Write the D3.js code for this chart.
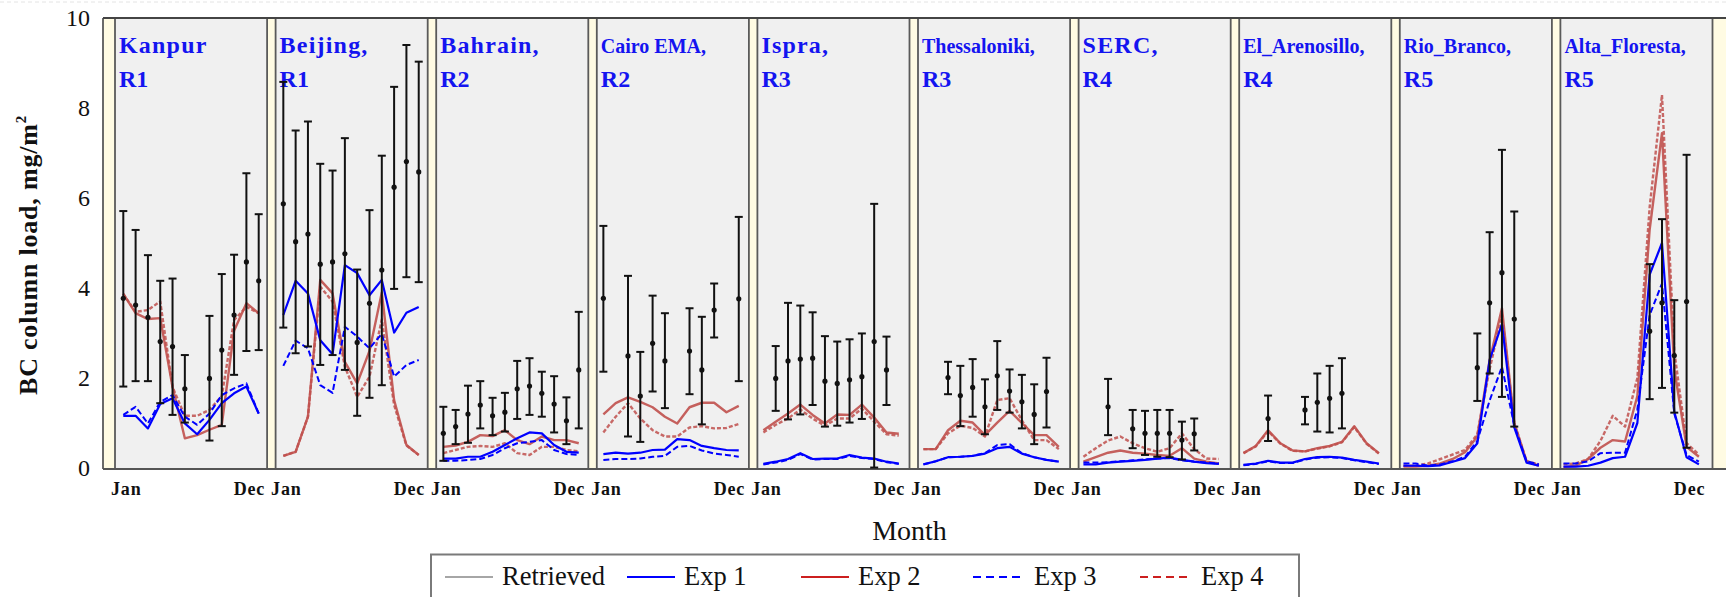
<!DOCTYPE html>
<html>
<head>
<meta charset="utf-8">
<script src="https://cdn.jsdelivr.net/npm/d3@7"></script>
<style>
  body { margin: 0; background: #fff; }
  text { font-family: "Liberation Serif", "Times New Roman", serif; }
</style>
</head>
<body>
<svg width="1726" height="597"></svg>
<script>

// sites, one panel each
var siteNames = ["Kanpur", "Beijing,", "Bahrain,", "Cairo EMA,", "Ispra,", "Thessaloniki,",
                 "SERC,", "El_Arenosillo,", "Rio_Branco,", "Alta_Floresta,"];
var regions = ["R1", "R1", "R2", "R2", "R3", "R3", "R4", "R4", "R5", "R5"];
var yTicks = [0, 2, 4, 6, 8, 10];
var seriesNames = ["Retrieved", "Exp 1", "Exp 2", "Exp 3", "Exp 4"];

// retrieved monthly mean and error bar limits (null = no data)
var _ = null;
var retMean = [
  [3.77, 3.62, 3.35, 2.81, 2.70, 1.76, _, 1.99, 2.62, 3.40, 4.58, 4.16],
  [5.87, 5.03, 5.20, 4.53, 4.58, 4.76, 2.79, 3.66, 4.40, 6.24, 6.81, 6.58],
  [0.77, 0.92, 1.20, 1.40, 1.16, 1.24, 1.76, 1.82, 1.66, 1.42, 1.05, 2.18],
  [3.77, _, 2.49, 1.60, 2.77, 2.38, _, 2.60, 2.18, 3.51, _, 3.76],
  [_, 1.99, 2.38, 2.42, 2.44, 1.93, 1.88, 1.96, 2.03, 2.81, 2.18, _],
  [_, _, 2.01, 1.61, 1.79, 1.36, 2.05, 1.71, 1.47, 1.19, 1.70, _],
  [_, _, 1.36, _, 0.87, 0.77, 0.77, 0.77, 0.62, 0.76, _, _],
  [_, _, 1.10, _, _, 1.29, 1.46, 1.55, 1.66, _, _, _],
  [_, _, _, _, _, _, 2.23, 3.67, 4.34, 3.31, _, _],
  [_, _, _, _, _, _, _, 3.04, 3.67, 2.50, 3.70, _]
];
var retLow = [
  [1.81, 1.93, 1.93, 1.44, 1.18, 1.01, _, 0.61, 0.93, 2.07, 2.60, 2.62],
  [3.12, 2.55, 2.70, 2.29, 2.51, 2.18, 1.16, 1.56, 1.84, 3.98, 4.24, 4.13],
  [0.16, 0.53, 0.56, 0.88, 0.73, 0.81, 1.09, 1.18, 1.14, 0.79, 0.53, 0.88],
  [2.14, _, 0.70, 0.58, 1.70, 1.33, _, 1.64, 0.97, 2.90, _, 1.93],
  [_, 1.27, 1.08, 1.19, 1.40, 0.92, 0.94, 1.01, 1.09, 0.01, 1.40, _],
  [_, _, 1.64, 0.93, 1.14, 0.75, 1.29, 1.23, 0.88, 0.53, 0.90, _],
  [_, _, 0.73, _, 0.44, 0.29, 0.25, 0.24, 0.19, 0.39, _, _],
  [_, _, 0.60, _, _, 0.97, 0.81, 0.79, 0.88, _, _, _],
  [_, _, _, _, _, _, 1.49, 2.10, 1.58, 0.92, _, _],
  [_, _, _, _, _, _, _, 1.53, 1.78, 1.23, 0.45, _]
];
var retHigh = [
  [5.71, 5.29, 4.73, 4.16, 4.21, 2.51, _, 3.38, 4.31, 4.74, 6.55, 5.64],
  [8.58, 7.50, 7.70, 6.76, 6.61, 7.33, 4.41, 5.73, 6.94, 8.47, 9.40, 9.03],
  [1.36, 1.29, 1.83, 1.93, 1.56, 1.67, 2.38, 2.44, 2.14, 2.04, 1.57, 3.47],
  [5.38, _, 4.27, 2.58, 3.83, 3.44, _, 3.55, 3.36, 4.10, _, 5.58],
  [_, 2.71, 3.67, 3.61, 3.46, 2.93, 2.81, 2.86, 2.99, 5.87, 2.92, _],
  [_, _, 2.36, 2.27, 2.42, 1.97, 2.82, 2.19, 2.07, 1.86, 2.45, _],
  [_, _, 1.98, _, 1.29, 1.27, 1.29, 1.29, 1.03, 1.10, _, _],
  [_, _, 1.61, _, _, 1.58, 2.10, 2.27, 2.44, _, _, _],
  [_, _, _, _, _, _, 2.99, 5.24, 7.07, 5.70, _, _],
  [_, _, _, _, _, _, _, 4.53, 5.53, 3.73, 6.96, _]
];

// model experiments
var exp1 = [
  [1.16, 1.16, 0.88, 1.42, 1.55, 0.99, 0.75, 1.07, 1.44, 1.66, 1.81, 1.21],
  [3.40, 4.16, 3.88, 2.84, 2.53, 4.51, 4.33, 3.84, 4.18, 3.01, 3.45, 3.58],
  [0.21, 0.21, 0.25, 0.25, 0.36, 0.51, 0.66, 0.79, 0.77, 0.51, 0.36, 0.34],
  [0.31, 0.34, 0.32, 0.34, 0.40, 0.41, 0.64, 0.62, 0.49, 0.44, 0.40, 0.39],
  [0.09, 0.14, 0.20, 0.33, 0.20, 0.21, 0.21, 0.29, 0.23, 0.21, 0.14, 0.10],
  [0.08, 0.15, 0.24, 0.25, 0.27, 0.32, 0.44, 0.47, 0.32, 0.24, 0.18, 0.14],
  [0.08, 0.08, 0.12, 0.14, 0.16, 0.18, 0.21, 0.23, 0.18, 0.14, 0.11, 0.09],
  [0.07, 0.10, 0.16, 0.12, 0.12, 0.20, 0.24, 0.25, 0.23, 0.18, 0.14, 0.10],
  [0.05, 0.05, 0.04, 0.06, 0.14, 0.22, 0.55, 2.40, 3.20, 0.90, 0.12, 0.05],
  [0.03, 0.03, 0.05, 0.12, 0.22, 0.25, 1.00, 4.30, 5.00, 1.25, 0.24, 0.08]
];
var exp2 = [
  [3.87, 3.44, 3.31, 3.33, 1.80, 0.66, 0.73, 0.85, 0.96, 3.05, 3.66, 3.44],
  [0.27, 0.36, 1.14, 4.18, 3.88, 2.36, 1.88, 2.60, 3.90, 1.51, 0.51, 0.29],
  [0.47, 0.50, 0.58, 0.73, 0.71, 0.84, 0.62, 0.53, 0.70, 0.62, 0.62, 0.55],
  [1.19, 1.44, 1.57, 1.47, 1.35, 1.14, 0.99, 1.35, 1.45, 1.45, 1.24, 1.38],
  [0.84, 1.03, 1.21, 1.41, 1.18, 0.99, 1.19, 1.18, 1.41, 1.12, 0.79, 0.76],
  [0.42, 0.42, 0.84, 1.05, 1.01, 0.73, 1.01, 1.27, 1.00, 0.73, 0.73, 0.47],
  [0.14, 0.24, 0.34, 0.39, 0.34, 0.32, 0.29, 0.27, 0.44, 0.21, 0.14, 0.10],
  [0.33, 0.49, 0.84, 0.55, 0.39, 0.37, 0.44, 0.49, 0.58, 0.93, 0.55, 0.33],
  [0.03, 0.03, 0.05, 0.10, 0.20, 0.35, 0.70, 2.40, 3.55, 1.00, 0.15, 0.05],
  [0.02, 0.05, 0.20, 0.45, 0.62, 0.59, 1.60, 5.30, 7.44, 2.20, 0.47, 0.25]
];
var exp3 = [
  [1.18, 1.36, 0.99, 1.47, 1.62, 1.14, 0.96, 1.21, 1.62, 1.77, 1.88, 1.21],
  [2.27, 2.83, 2.66, 1.84, 1.67, 3.14, 2.92, 2.66, 2.98, 2.03, 2.29, 2.40],
  [0.16, 0.16, 0.18, 0.20, 0.29, 0.44, 0.55, 0.58, 0.62, 0.40, 0.31, 0.29],
  [0.18, 0.20, 0.20, 0.21, 0.25, 0.27, 0.47, 0.49, 0.39, 0.32, 0.29, 0.25],
  [0.08, 0.12, 0.18, 0.31, 0.19, 0.20, 0.20, 0.27, 0.22, 0.20, 0.13, 0.09],
  [0.08, 0.15, 0.24, 0.25, 0.27, 0.33, 0.51, 0.53, 0.33, 0.24, 0.18, 0.14],
  [0.12, 0.12, 0.13, 0.15, 0.17, 0.19, 0.21, 0.22, 0.17, 0.14, 0.12, 0.10],
  [0.06, 0.09, 0.15, 0.11, 0.11, 0.19, 0.23, 0.24, 0.22, 0.17, 0.13, 0.09],
  [0.10, 0.10, 0.05, 0.08, 0.15, 0.25, 0.60, 1.50, 2.25, 0.95, 0.15, 0.08],
  [0.10, 0.10, 0.15, 0.33, 0.34, 0.34, 1.30, 3.40, 4.10, 1.21, 0.29, 0.14]
];
var exp4 = [
  [3.87, 3.47, 3.51, 3.70, 1.80, 1.16, 1.16, 1.29, 1.60, 3.29, 3.58, 3.44],
  [0.27, 0.36, 1.14, 4.03, 3.70, 2.25, 1.58, 2.03, 3.30, 1.40, 0.50, 0.29],
  [0.33, 0.40, 0.47, 0.49, 0.47, 0.55, 0.33, 0.29, 0.47, 0.47, 0.40, 0.37],
  [0.79, 1.14, 1.44, 1.10, 0.84, 0.70, 0.70, 0.90, 0.93, 0.88, 0.89, 0.98],
  [0.79, 0.96, 1.10, 1.30, 1.10, 0.94, 1.10, 1.10, 1.32, 1.03, 0.75, 0.72],
  [0.42, 0.42, 0.77, 0.94, 0.89, 0.70, 1.51, 1.55, 1.06, 0.62, 0.62, 0.42],
  [0.25, 0.44, 0.61, 0.70, 0.55, 0.44, 0.36, 0.44, 0.77, 0.42, 0.21, 0.20],
  [0.33, 0.48, 0.82, 0.54, 0.38, 0.37, 0.43, 0.48, 0.57, 0.91, 0.54, 0.32],
  [0.05, 0.05, 0.10, 0.20, 0.30, 0.40, 0.75, 2.20, 3.40, 1.00, 0.15, 0.08],
  [0.08, 0.10, 0.20, 0.60, 1.16, 0.92, 2.00, 5.80, 8.29, 2.60, 0.55, 0.30]
];

var W = 1726, H = 597;
var frameL = 103, frameT = 18, frameB = 469;
var blue = "#0000ff", red = "#c0504d";

var svg = d3.select("svg");

// month index u = 13*panel + month
var x = d3.scaleLinear().domain([0, 117]).range([123.3, 1563.5]);
// panel dividers
var panelX = d3.scaleLinear().domain([0, 10]).range([106.5, 1712.5]);
var y = d3.scaleLinear().domain([0, 10]).range([468, 18]);

// faint dashed line at the very top
svg.append("line").attr("x1", 0).attr("x2", W).attr("y1", 2).attr("y2", 2)
  .style("stroke", "#e4e4e4").style("stroke-dasharray", "4,3");

// panel backgrounds and cream strips
var bg = svg.append("g");
for (var k = 0; k <= 10; k++) {
  var d = panelX(k);
  var s0 = k == 0 ? frameL : d;
  var s1 = d + 8.5;
  if (k < 10) {
    bg.append("rect").attr("x", s1).attr("y", frameT)
      .attr("width", panelX(k + 1) - s1).attr("height", frameB - frameT)
      .style("fill", "#f0f0f0");
  }
  bg.append("rect").attr("x", s0).attr("y", frameT)
    .attr("width", k == 10 ? W - s0 + 5 : s1 - s0).attr("height", frameB - frameT)
    .style("fill", "#fffbe3");
  [s0, s1].forEach(function(lx, j) {
    if (k == 10 && j == 1) return;
    bg.append("line").attr("x1", lx).attr("x2", lx).attr("y1", frameT).attr("y2", frameB)
      .style("stroke", "#5a5a5a").style("stroke-width", 1.8);
  });
}

// frame
svg.append("line").attr("x1", frameL).attr("x2", W).attr("y1", frameT).attr("y2", frameT)
  .style("stroke", "#444").style("stroke-width", 2);
svg.append("line").attr("x1", frameL).attr("x2", W).attr("y1", frameB).attr("y2", frameB)
  .style("stroke", "#555").style("stroke-width", 2);

// y axis
var yAxis = svg.append("g").attr("transform", "translate(" + frameL + ",0)")
  .call(d3.axisLeft(y).tickValues(yTicks).tickSize(0).tickPadding(13));
yAxis.select(".domain").remove();
yAxis.selectAll("text").style("font-family", "Liberation Serif").style("font-size", "24px")
  .style("fill", "#111");

svg.append("text")
  .attr("transform", "translate(37,395) rotate(-90)")
  .style("font-size", "26px").style("font-weight", "bold").style("letter-spacing", "0.8px")
  .style("fill", "#111")
  .text("BC column load, mg/m")
  .append("tspan").attr("dy", -11).style("font-size", "15px").text("2");

// x axis: Jan / Dec under every panel
var xTickVals = [], xTickText = [];
for (var k = 0; k < 10; k++) {
  xTickVals.push(13 * k + 0.2); xTickText.push("Jan");
  xTickVals.push(13 * k + 10.2); xTickText.push("Dec");
}
var xAxis = svg.append("g").attr("transform", "translate(0," + frameB + ")")
  .call(d3.axisBottom(x).tickValues(xTickVals).tickSize(0).tickPadding(13)
    .tickFormat(function(v, i) { return xTickText[i]; }));
xAxis.select(".domain").remove();
xAxis.selectAll("text").style("font-family", "Liberation Serif").style("font-size", "18px")
  .style("font-weight", "bold").style("letter-spacing", "0.8px").style("fill", "#111");

svg.append("text").attr("x", 909.5).attr("y", 540).attr("text-anchor", "middle")
  .style("font-size", "28px").style("fill", "#111").text("Month");

// panel titles
siteNames.forEach(function(name, k) {
  var tx = panelX(k) + 12.5;
  var small = name.length > 9;
  svg.append("text").attr("x", tx).attr("y", 53)
    .style("font-size", small ? "20px" : "24px").style("font-weight", "bold")
    .style("letter-spacing", small ? "0px" : "1.2px").style("fill", "#1414f0")
    .text(name);
  svg.append("text").attr("x", tx).attr("y", 87)
    .style("font-size", "24px").style("font-weight", "bold").style("fill", "#1414f0")
    .text(regions[k]);
});

// model lines
var styles = [
  { data: exp4, color: red, width: 2.4, dash: "4,2", op: 0.85 },
  { data: exp2, color: red, width: 2.4, dash: null, op: 0.9 },
  { data: exp3, color: blue, width: 2, dash: "6,3", op: 1 },
  { data: exp1, color: blue, width: 2.2, dash: null, op: 1 }
];
var lines = svg.append("g");
styles.forEach(function(st) {
  st.data.forEach(function(vals, k) {
    var line = d3.line()
      .x(function(v, i) { return x(13 * k + i); })
      .y(function(v) { return y(v); });
    lines.append("path").datum(vals).attr("d", line)
      .style("fill", "none").style("stroke", st.color).style("stroke-width", st.width)
      .style("stroke-opacity", st.op)
      .style("stroke-dasharray", st.dash).style("stroke-linejoin", "round");
  });
});

// retrieved error bars
var bars = svg.append("g");
retMean.forEach(function(vals, k) {
  vals.forEach(function(v, i) {
    if (v == null) return;
    var bx = x(13 * k + i), lo = y(retLow[k][i]), hi = y(retHigh[k][i]);
    bars.append("line").attr("x1", bx).attr("x2", bx).attr("y1", lo).attr("y2", hi)
      .style("stroke", "#111").style("stroke-width", 2);
    [lo, hi].forEach(function(cy) {
      bars.append("line").attr("x1", bx - 4).attr("x2", bx + 4).attr("y1", cy).attr("y2", cy)
        .style("stroke", "#111").style("stroke-width", 2);
    });
    bars.append("circle").attr("cx", bx).attr("cy", y(v)).attr("r", 2.6).style("fill", "#111");
  });
});

// legend
var lg = svg.append("g");
lg.append("rect").attr("x", 431).attr("y", 554.5).attr("width", 868).attr("height", 60)
  .style("fill", "#fff").style("stroke", "#7a7a7a").style("stroke-width", 2);
var legStart = [445, 627, 801, 973, 1140];
var legColor = ["#888", blue, "#cc1f1f", blue, "#cc1f1f"];
var legDash = [null, null, null, "8,5", "8,5"];
seriesNames.forEach(function(nm, i) {
  lg.append("line").attr("x1", legStart[i]).attr("x2", legStart[i] + 48)
    .attr("y1", 577).attr("y2", 577)
    .style("stroke", legColor[i]).style("stroke-width", i == 0 ? 1.5 : 2)
    .style("stroke-dasharray", legDash[i]);
  lg.append("text").attr("x", legStart[i] + 57 + (i >= 3 ? 4 : 0)).attr("y", 584.5)
    .style("font-size", "26.5px").style("fill", "#111").text(nm);
});

</script>
</body>
</html>
